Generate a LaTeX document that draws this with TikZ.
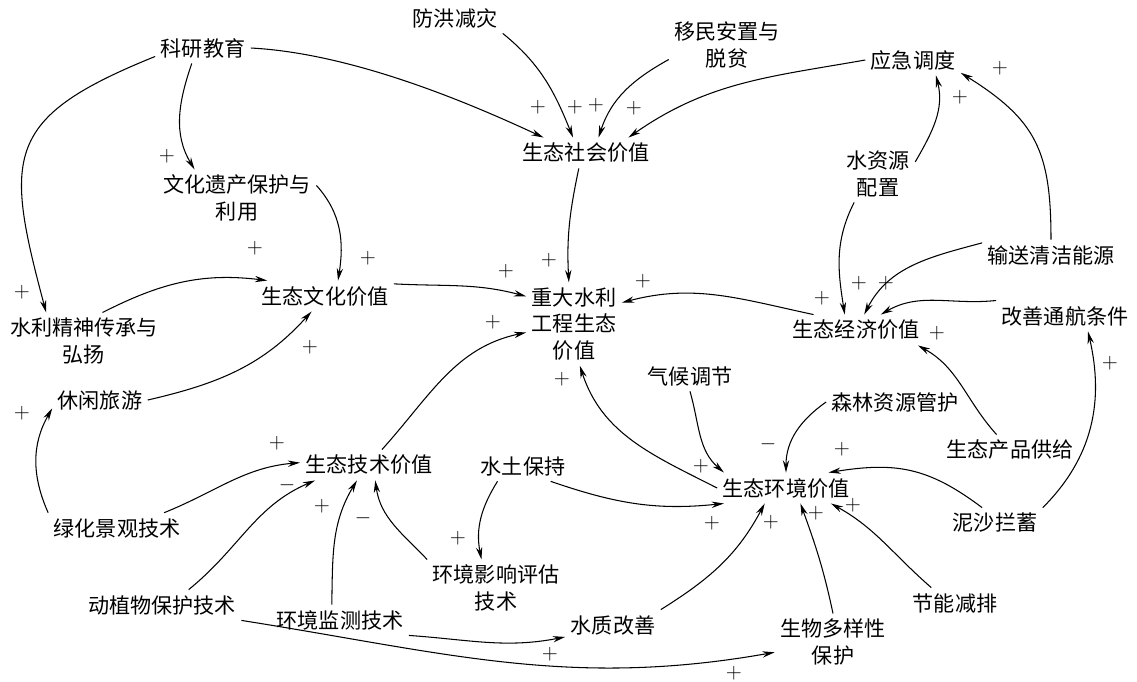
\documentclass[tikz,border=0pt]{standalone}
\usepackage{fontspec}
\newfontfamily\cjk{Noto Sans CJK SC}
\usetikzlibrary{arrows.meta}

\begin{document}
\begin{tikzpicture}[x=0.02cm,y=0.02cm,
  box/.style={font=\cjk\fontsize{12}{15}\selectfont,align=center,inner sep=3pt},
  sgn/.style={font=\large,inner sep=0pt},
  lnk/.style={line width=0.6pt,-{Stealth[length=7pt,width=3.6pt]}}]
\useasboundingbox (0,0) rectangle (1137,-681);
\node[box] (kyjy) at (203,-48) {科研教育};
\node[box] (fhjz) at (455,-18) {防洪减灾};
\node[box] (ymaz) at (727,-45) {移民安置与\\脱贫};
\node[box] (yjdd) at (913,-60) {应急调度};
\node[box] (shjz) at (586,-153) {生态社会价值};
\node[box] (whyc) at (237,-198) {文化遗产保护与\\利用};
\node[box] (szypz) at (878,-174) {水资源\\配置};
\node[box] (whjz) at (325,-296) {生态文化价值};
\node[box] (zdsl) at (574,-324) {重大水利\\工程生态\\价值};
\node[box] (ssqj) at (1051,-255) {输送清洁能源};
\node[box] (jjjz) at (856,-330) {生态经济价值};
\node[box] (gsth) at (1065,-316) {改善通航条件};
\node[box] (sljs) at (84,-341) {水利精神传承与\\弘扬};
\node[box] (xxly) at (100,-400) {休闲旅游};
\node[box] (qhtj) at (690,-376) {气候调节};
\node[box] (sllh) at (895,-402) {森林资源管护};
\node[box] (cpgj) at (1010,-450) {生态产品供给};
\node[box] (jsjz) at (369,-465) {生态技术价值};
\node[box] (stbc) at (523,-466) {水土保持};
\node[box] (hjjz) at (786,-488) {生态环境价值};
\node[box] (nsl) at (995,-523) {泥沙拦蓄};
\node[box] (lhjg) at (117,-528) {绿化景观技术};
\node[box] (hjpg) at (496,-588) {环境影响评估\\技术};
\node[box] (dzw) at (162,-605) {动植物保护技术};
\node[box] (hjjc) at (340,-620) {环境监测技术};
\node[box] (szgs) at (613,-625) {水质改善};
\node[box] (jnjp) at (955,-603) {节能减排};
\node[box] (swdy) at (833,-642) {生物多样性\\保护};

\draw[lnk] (kyjy.east) to[out=-3,in=155,looseness=0.8] (shjz.160);
\draw[lnk] (fhjz.south east) to[out=-39,in=112] (shjz.130);
\draw[lnk] (ymaz.194) to[out=209,in=72] (shjz.51);
\draw[lnk] (yjdd.west) to[out=190,in=35] (shjz.20);
\draw[lnk] (szypz.18) to[out=60,in=-76] (yjdd.-34);
\draw[lnk] (ssqj.north) to[out=90,in=-32,looseness=1.2] (yjdd.-15);
\draw[lnk] (kyjy.-126) to[out=251,in=121] (whyc.146);
\draw[lnk] (kyjy.190) to[out=202,in=105,looseness=1.5] (sljs.143);
\draw[lnk] (whyc.9) to[out=-48,in=81] (whjz.50);
\draw[lnk] (sljs.57) to[out=27,in=173] (whjz.165);
\draw[lnk] (xxly.east) to[out=13,in=228] (whjz.-131);
\draw[lnk] (whjz.10) to[out=-3,in=165] (zdsl.150);
\draw[lnk] (shjz.-115) to[out=258,in=93] (zdsl.97);
\draw[lnk] (jsjz.50) to[out=48,in=192] (zdsl.190);
\draw[lnk] (jjjz.160) to[out=168,in=15] (zdsl.24);
\draw[lnk] (hjjz.west) to[out=153,in=-72] (zdsl.-82);
\draw[lnk] (szypz.-130) to[out=243,in=99] (jjjz.126);
\draw[lnk] (ssqj.170) to[out=195,in=63] (jjjz.62);
\draw[lnk] (gsth.north west) to[out=186,in=30] (jjjz.32);
\draw[lnk] (cpgj.131) to[out=132,in=-29] (jjjz.-14);
\draw[lnk] (nsl.north east) to[out=45,in=-77] (gsth.-34);
\draw[lnk] (qhtj.south) to[out=-74,in=139] (hjjz.166);
\draw[lnk] (sllh.west) to[out=215,in=90] (hjjz.north);
\draw[lnk] (nsl.130) to[out=143,in=9,looseness=1.1] (hjjz.20);
\draw[lnk] (stbc.-29) to[out=-19,in=186] (hjjz.194);
\draw[lnk] (szgs.north east) to[out=32,in=242] (hjjz.216);
\draw[lnk] (swdy.north) to[out=102,in=-70] (hjjz.-47);
\draw[lnk] (jnjp.147) to[out=139,in=-29] (hjjz.-19);
\draw[lnk] (lhjg.north west) to[out=114,in=240] (xxly.190);
\draw[lnk] (lhjg.18) to[out=22,in=185] (jsjz.178);
\draw[lnk] (dzw.30) to[out=39,in=203] (jsjz.196);
\draw[lnk] (hjjc.118) to[out=89,in=239] (jsjz.-128);
\draw[lnk] (hjpg.north west) to[out=134,in=-82] (jsjz.-68);
\draw[lnk] (stbc.211) to[out=238,in=101] (hjpg.117);
\draw[lnk] (hjjc.south east) to[out=-4,in=191] (szgs.194);
\draw[lnk] (dzw.south east) to[out=-9,in=190] (swdy.190);

\foreach \p/\s [count=\i] in {{538,-107}/+,{575,-107}/+,{596,-105}/+,{634,-108}/+,
  {960,-97}/+,{1000,-68}/+,{167,-156}/+,{22,-292}/+,{368,-258}/+,{255,-248}/+,
  {310,-347}/+,{506,-271}/+,{549,-260}/+,{493,-322}/+,{643,-281}/+,{562,-379}/+,
  {822,-298}/+,{859,-283}/+,{886,-283}/+,{937,-333}/+,{1110,-363}/+,{701,-466}/+,
  {768,-444}/-,{842,-449}/+,{712,-523}/+,{771,-522}/+,{816,-513}/+,{853,-505}/+,
  {22,-413}/+,{277,-443}/+,{287,-485}/-,{322,-506}/+,{363,-518}/-,{458,-538}/+,
  {550,-654}/+,{734,-673}/+}
  \node[sgn] (sg\i) at (\p) {$\s$};
\end{tikzpicture}
\end{document}
